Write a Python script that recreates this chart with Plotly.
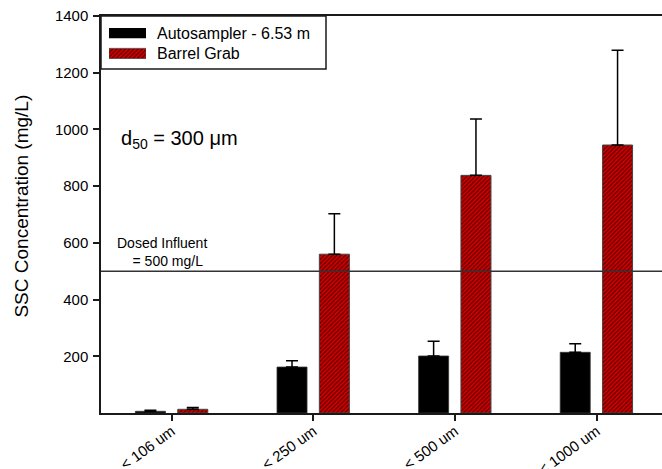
import plotly.graph_objects as go

# Particle-size fractions and measured SSC (mg/L)
categories = ["< 106 um", "< 250 um", "< 500 um", "< 1000 um"]
autosampler = [6, 162, 201, 214]
autosampler_err = [4, 22, 52, 30]
barrel_grab = [13, 560, 838, 945]
barrel_grab_err = [6, 143, 199, 334]
y_ticks = [200, 400, 600, 800, 1000, 1200, 1400]
dosed_influent = 500

FONT = "Arial, Liberation Sans, sans-serif"
RED = "#f00000"
AXIS = "#1a1a1a"
HATCH = dict(shape="/", fgcolor="black", bgcolor=RED, size=3, solidity=0.65)

x_pos = list(range(len(categories)))
bar_w = 0.212

fig = go.Figure()

fig.add_trace(go.Bar(
    x=x_pos, y=autosampler, width=bar_w, offset=-0.257,
    marker=dict(color="black", line=dict(color="#333", width=0.8)),
    error_y=dict(type="data", symmetric=False, array=autosampler_err,
                 arrayminus=[0] * len(autosampler), color="black",
                 thickness=1.5, width=6),
    showlegend=False,
))
fig.add_trace(go.Bar(
    x=x_pos, y=barrel_grab, width=bar_w, offset=0.042,
    marker=dict(color=RED, line=dict(color="#444", width=1), pattern=HATCH),
    error_y=dict(type="data", symmetric=False, array=barrel_grab_err,
                 arrayminus=[0] * len(barrel_grab), color="black",
                 thickness=1.5, width=6),
    showlegend=False,
))

# Legend swatches drawn on a small inset axis
fig.add_trace(go.Bar(
    x=[1], y=[1], orientation="h", width=0.5, xaxis="x2", yaxis="y2",
    marker=dict(color="black", line=dict(width=0)),
    showlegend=False, hoverinfo="skip",
))
fig.add_trace(go.Bar(
    x=[1], y=[0], orientation="h", width=0.5, xaxis="x2", yaxis="y2",
    marker=dict(color=RED, line=dict(color="#444", width=0.8), pattern=HATCH),
    showlegend=False, hoverinfo="skip",
))

W, H = 662, 469
L, R, T, B = 101, 0, 16, 56
pw, ph = W - L - R, H - T - B


def px_x(px):
    return (px - L) / pw


def px_y(py):
    return (H - B - py) / ph


fig.update_layout(
    width=W, height=H,
    margin=dict(l=L, r=R, t=T, b=B, pad=0, autoexpand=False),
    paper_bgcolor="white", plot_bgcolor="white",
    font=dict(family=FONT, color="black", size=15),
    barmode="overlay",
    xaxis=dict(
        range=[-0.5, -0.5 + pw / 141.6], automargin=False,
        tickvals=x_pos, ticktext=categories, tickangle=-36,
        ticks="outside", ticklen=6, tickwidth=1.5, tickcolor=AXIS,
        showline=True, linecolor=AXIS, linewidth=1.5, mirror=True,
        showgrid=False, zeroline=False, tickfont=dict(size=15),
        ticklabelstandoff=-4,
    ),
    yaxis=dict(
        range=[0, 1400], tickvals=y_ticks, automargin=False,
        ticks="outside", ticklen=6, tickwidth=1.5, tickcolor=AXIS,
        showline=True, linecolor=AXIS, linewidth=1.5,
        showgrid=False, zeroline=False, tickfont=dict(size=15),
        ticklabelstandoff=2,
    ),
    xaxis2=dict(domain=[px_x(109), px_x(146)], range=[0, 1], anchor="y2",
                visible=False, fixedrange=True),
    yaxis2=dict(domain=[px_y(63.6), px_y(23)], range=[-0.5, 1.5], anchor="x2",
                visible=False, fixedrange=True),
    shapes=[
        dict(type="line", xref="paper", yref="y", x0=0, x1=1,
             y0=dosed_influent, y1=dosed_influent,
             line=dict(color="#333", width=1.5)),
        dict(type="rect", xref="paper", yref="paper",
             x0=0, x1=px_x(326), y0=px_y(69), y1=1,
             line=dict(color=AXIS, width=1.5), fillcolor="rgba(0,0,0,0)"),
    ],
    annotations=[
        dict(text="SSC Concentration (mg/L)", textangle=-90,
             xref="paper", yref="paper", x=px_x(22), y=0.52,
             xanchor="center", yanchor="middle",
             showarrow=False, font=dict(size=19)),
        dict(text="d<sub>50</sub> = 300 \u03bcm", xref="paper", yref="paper",
             x=px_x(119), y=px_y(139), xanchor="left", yanchor="middle",
             showarrow=False, font=dict(size=20)),
        dict(text="Dosed Influent<br>\u00a0\u00a0\u00a0\u00a0= 500 mg/L",
             xref="paper", yref="paper", align="left",
             x=px_x(115), y=px_y(252), xanchor="left", yanchor="middle",
             showarrow=False, font=dict(size=14)),
        dict(text="Autosampler - 6.53 m", xref="paper", yref="paper",
             x=px_x(155), y=px_y(33), xanchor="left", yanchor="middle",
             showarrow=False, font=dict(size=16)),
        dict(text="Barrel Grab", xref="paper", yref="paper",
             x=px_x(155), y=px_y(53.5), xanchor="left", yanchor="middle",
             showarrow=False, font=dict(size=16)),
    ],
)

fig.write_html("out.html")
